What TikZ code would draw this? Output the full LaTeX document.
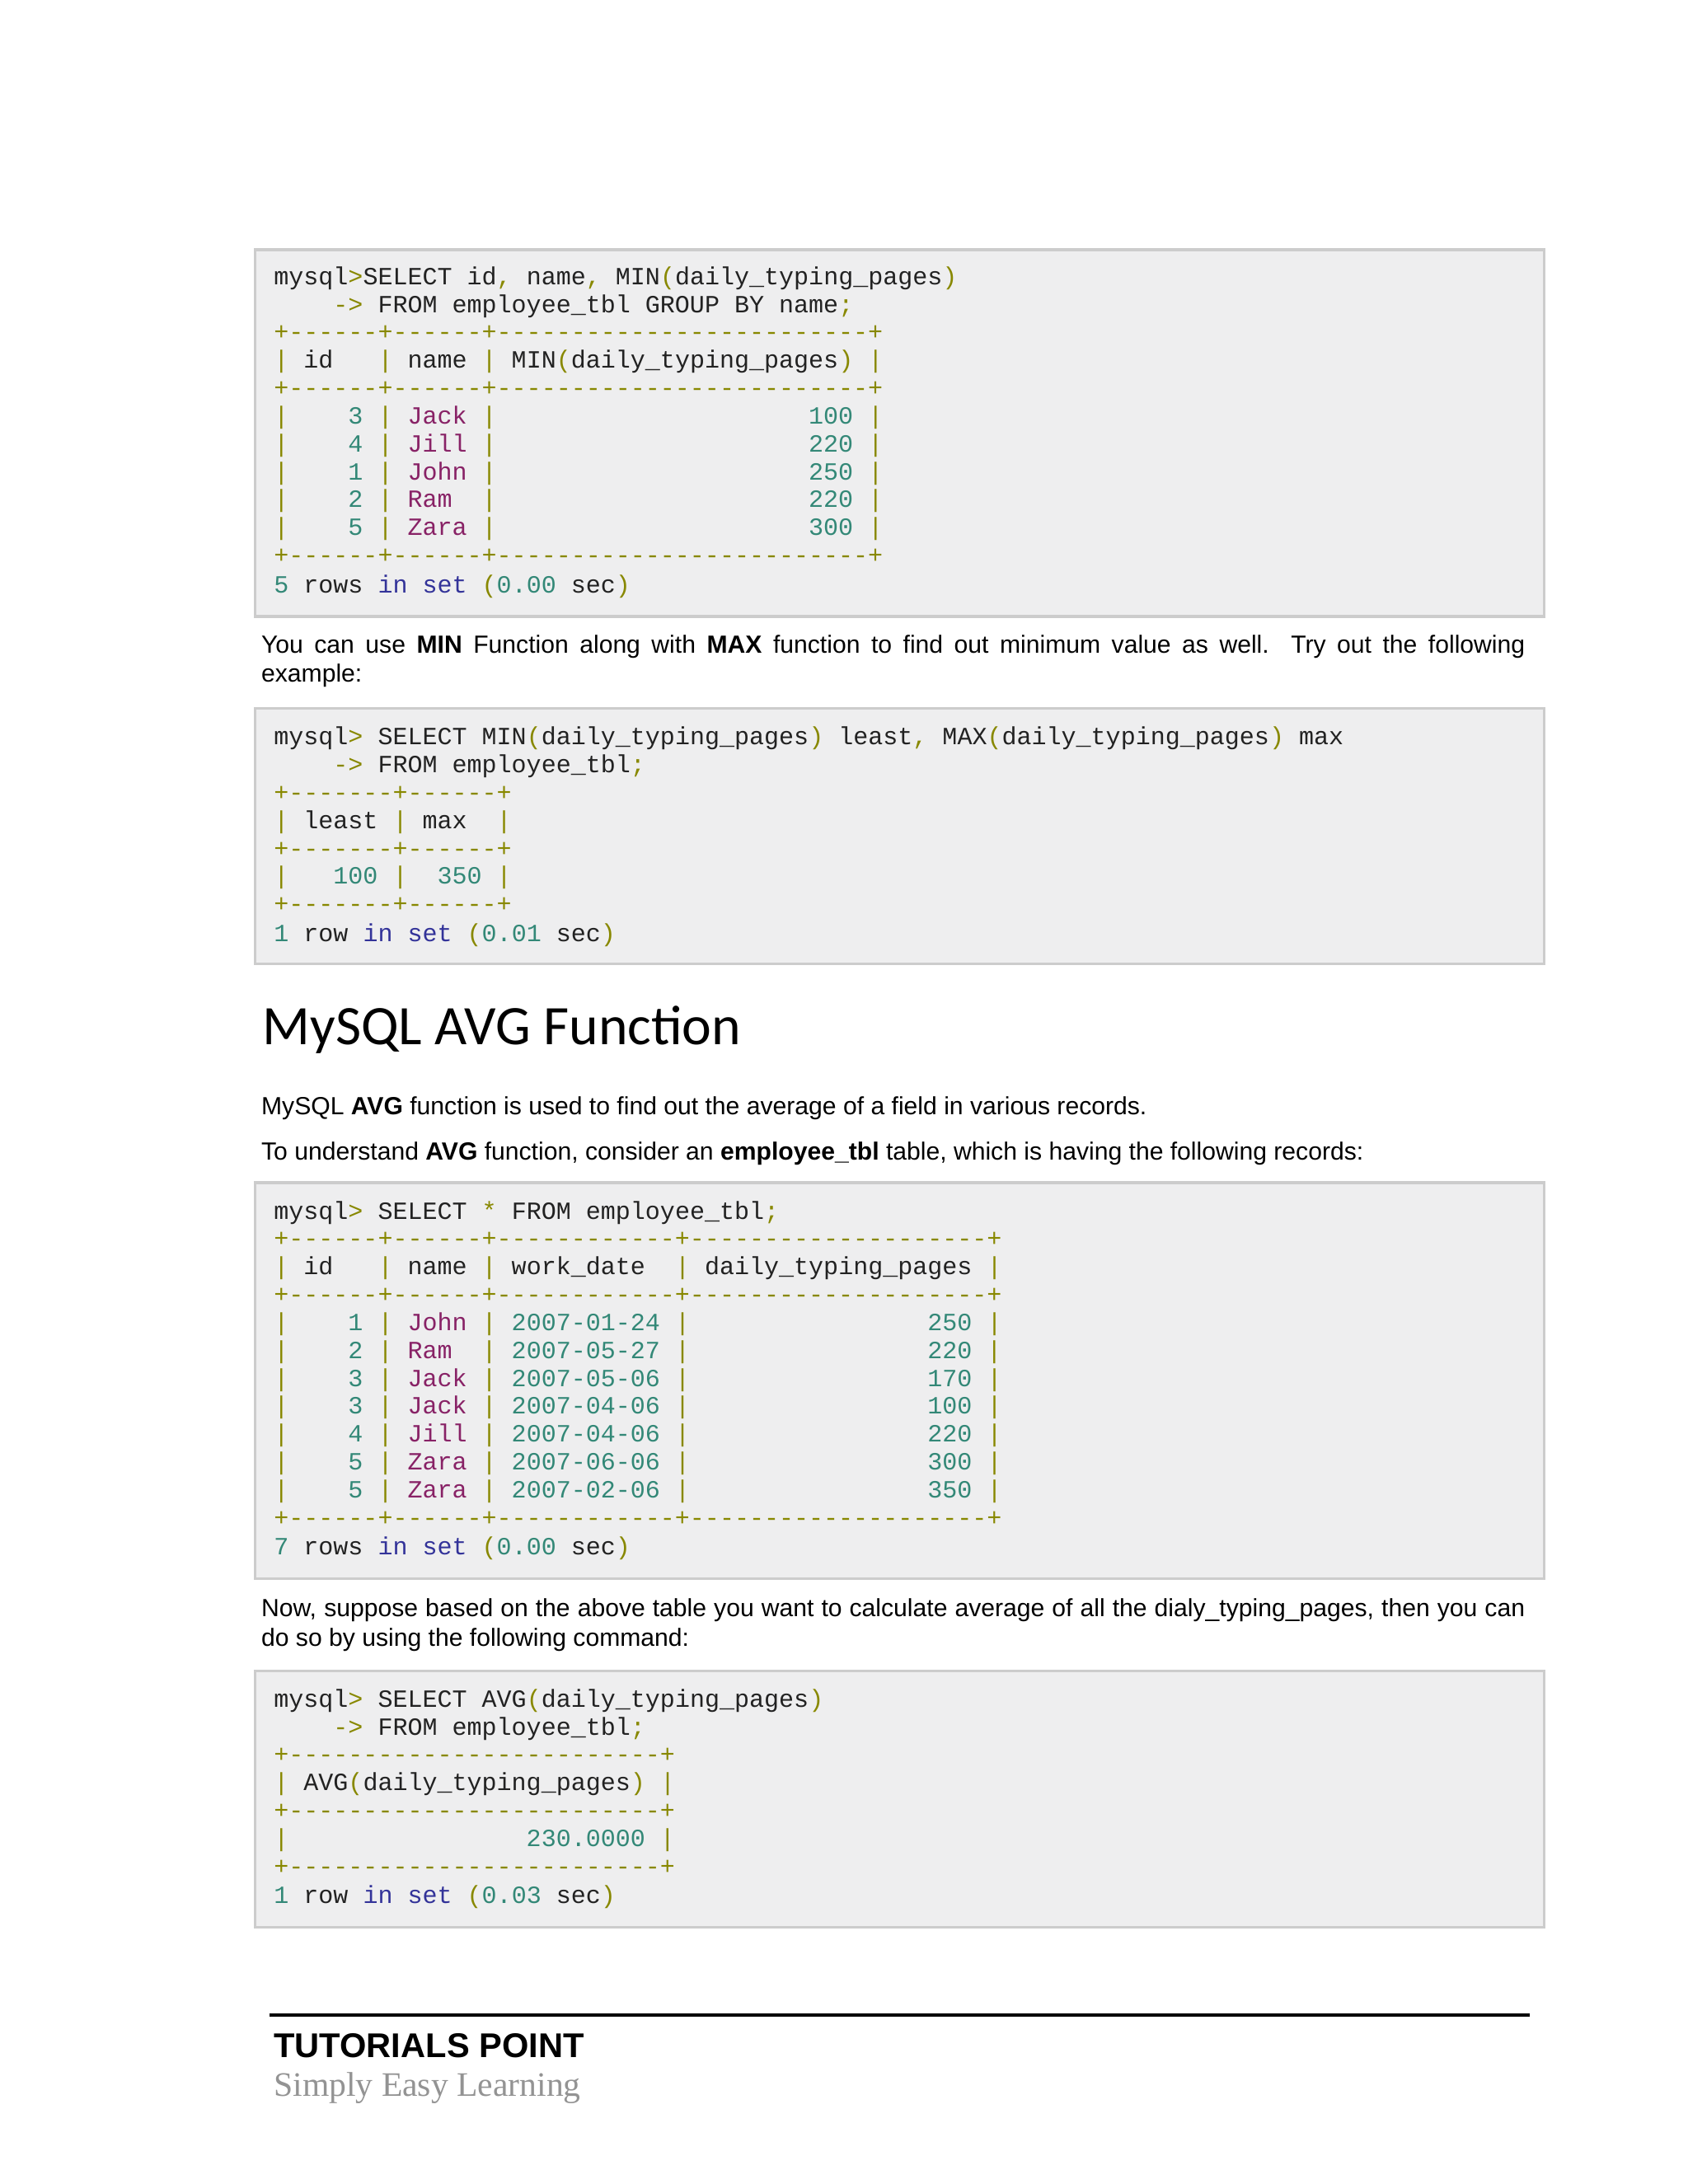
\documentclass[tikz,border=0pt]{standalone}
\usepackage{fontspec}
\setmainfont{Liberation Sans}
\setmonofont{Liberation Mono}
\newfontfamily\headfont{Carlito}
\newfontfamily\footserif{Liberation Serif}
\definecolor{olv}{HTML}{888800}
\definecolor{tea}{HTML}{338877}
\definecolor{pur}{HTML}{882266}
\definecolor{nav}{HTML}{333399}
\definecolor{boxbg}{HTML}{EEEEEF}
\definecolor{boxln}{HTML}{CCCCCC}
\definecolor{txt}{HTML}{222222}
\newcommand\co[1]{\textcolor{olv}{#1}}
\newcommand\cn[1]{\textcolor{tea}{#1}}
\newcommand\cq[1]{\textcolor{pur}{#1}}
\newcommand\ck[1]{\textcolor{nav}{#1}}
\newcommand\SP[1]{\hspace*{#1\dimexpr0.6em\relax}}
\tikzset{
  ml/.style={anchor=base west,inner sep=0pt,font=\ttfamily\fontsize{8.875}{10}\selectfont,text=txt},
  codebox/.style={fill=boxbg,draw=boxln,line width=1pt},
  para/.style={anchor=north west,inner sep=0pt,text width=453pt,align=justify,font=\fontsize{8.9}{10.5}\selectfont,text=black},
  line/.style={anchor=base west,inner sep=0pt,font=\fontsize{8.9}{10.5}\selectfont},
}
\begin{document}
\begin{tikzpicture}[x=0.5pt,y=-0.5pt]
\useasboundingbox (0,0) rectangle (1210,1566);
% box 1
\path[codebox] (183,179) rectangle (1107,442);
\node[ml] (a1) at (196,204) {mysql\co{>}SELECT~id\co{,}~name\co{,}~MIN\co{(}daily\_typing\_pages\co{)}};
\node[ml] (a2) at (196,224) {\SP4\co{->}~FROM~employee\_tbl~GROUP~BY~name\co{;}};
\node[ml] (a3) at (196,244) {\co{+------+------+-------------------------+}};
\node[ml] (a4) at (196,264) {\co{|}~id\SP3\co{|}~name~\co{|}~MIN\co{(}daily\_typing\_pages\co{)}~\co{|}};
\node[ml] (a5) at (196,284) {\co{+------+------+-------------------------+}};
\node[ml] (a6) at (196,304) {\co{|}\SP4\cn{3}~\co{|}~\cq{Jack}~\co{|}\SP{21}\cn{100}~\co{|}};
\node[ml] (a7) at (196,324) {\co{|}\SP4\cn{4}~\co{|}~\cq{Jill}~\co{|}\SP{21}\cn{220}~\co{|}};
\node[ml] (a8) at (196,344) {\co{|}\SP4\cn{1}~\co{|}~\cq{John}~\co{|}\SP{21}\cn{250}~\co{|}};
\node[ml] (a9) at (196,364) {\co{|}\SP4\cn{2}~\co{|}~\cq{Ram}\SP2\co{|}\SP{21}\cn{220}~\co{|}};
\node[ml] (a10) at (196,384) {\co{|}\SP4\cn{5}~\co{|}~\cq{Zara}~\co{|}\SP{21}\cn{300}~\co{|}};
\node[ml] (a11) at (196,404) {\co{+------+------+-------------------------+}};
\node[ml] (a12) at (196,425) {\cn{5}~rows~\ck{in}~\ck{set}~\co{(}\cn{0.00}~sec\co{)}};
% paragraph 1
\node[para] (p1) at (187,455) {You can use \textbf{MIN} Function along with \textbf{MAX} function to find out minimum value as well. Try out the following\linebreak example:};
% box 2
\path[codebox] (183,508) rectangle (1107,691);
\node[ml] (b1) at (196,534) {mysql\co{>}~SELECT~MIN\co{(}daily\_typing\_pages\co{)}~least\co{,}~MAX\co{(}daily\_typing\_pages\co{)}~max};
\node[ml] (b2) at (196,554) {\SP4\co{->}~FROM~employee\_tbl\co{;}};
\node[ml] (b3) at (196,574) {\co{+-------+------+}};
\node[ml] (b4) at (196,594) {\co{|}~least~\co{|}~max\SP2\co{|}};
\node[ml] (b5) at (196,614) {\co{+-------+------+}};
\node[ml] (b6) at (196,634) {\co{|}\SP3\cn{100}~\co{|}\SP2\cn{350}~\co{|}};
\node[ml] (b7) at (196,654) {\co{+-------+------+}};
\node[ml] (b8) at (196,675) {\cn{1}~row~\ck{in}~\ck{set}~\co{(}\cn{0.01}~sec\co{)}};
% heading
\node[anchor=base west,inner sep=0pt,font=\headfont\fontsize{20}{24}\selectfont] (h) at (188,749) {MySQL AVG Function};
\node[line] (p2) at (187,799) {MySQL \textbf{AVG} function is used to find out the average of a field in various records.};
\node[line] (p3) at (187,832) {To understand \textbf{AVG} function, consider an \textbf{employee\_tbl} table, which is having the following records:};
% box 3
\path[codebox] (183,848) rectangle (1107,1132);
\node[ml] (c1) at (196,874) {mysql\co{>}~SELECT~\co{*}~FROM~employee\_tbl\co{;}};
\node[ml] (c2) at (196,894) {\co{+------+------+------------+--------------------+}};
\node[ml] (c3) at (196,914) {\co{|}~id\SP3\co{|}~name~\co{|}~work\_date\SP2\co{|}~daily\_typing\_pages~\co{|}};
\node[ml] (c4) at (196,934) {\co{+------+------+------------+--------------------+}};
\node[ml] (c5) at (196,954) {\co{|}\SP4\cn{1}~\co{|}~\cq{John}~\co{|}~\cn{2007-01-24}~\co{|}\SP{16}\cn{250}~\co{|}};
\node[ml] (c6) at (196,974) {\co{|}\SP4\cn{2}~\co{|}~\cq{Ram}\SP2\co{|}~\cn{2007-05-27}~\co{|}\SP{16}\cn{220}~\co{|}};
\node[ml] (c7) at (196,994) {\co{|}\SP4\cn{3}~\co{|}~\cq{Jack}~\co{|}~\cn{2007-05-06}~\co{|}\SP{16}\cn{170}~\co{|}};
\node[ml] (c8) at (196,1014) {\co{|}\SP4\cn{3}~\co{|}~\cq{Jack}~\co{|}~\cn{2007-04-06}~\co{|}\SP{16}\cn{100}~\co{|}};
\node[ml] (c9) at (196,1034) {\co{|}\SP4\cn{4}~\co{|}~\cq{Jill}~\co{|}~\cn{2007-04-06}~\co{|}\SP{16}\cn{220}~\co{|}};
\node[ml] (c10) at (196,1054) {\co{|}\SP4\cn{5}~\co{|}~\cq{Zara}~\co{|}~\cn{2007-06-06}~\co{|}\SP{16}\cn{300}~\co{|}};
\node[ml] (c11) at (196,1074) {\co{|}\SP4\cn{5}~\co{|}~\cq{Zara}~\co{|}~\cn{2007-02-06}~\co{|}\SP{16}\cn{350}~\co{|}};
\node[ml] (c12) at (196,1094) {\co{+------+------+------------+--------------------+}};
\node[ml] (c13) at (196,1115) {\cn{7}~rows~\ck{in}~\ck{set}~\co{(}\cn{0.00}~sec\co{)}};
% paragraph 4
\node[para] (p4) at (187,1146) {Now, suppose based on the above table you want to calculate average of all the dialy\_typing\_pages, then you can do so by using the following command:};
% box 4
\path[codebox] (183,1198) rectangle (1107,1382);
\node[ml] (d1) at (196,1224) {mysql\co{>}~SELECT~AVG\co{(}daily\_typing\_pages\co{)}};
\node[ml] (d2) at (196,1244) {\SP4\co{->}~FROM~employee\_tbl\co{;}};
\node[ml] (d3) at (196,1264) {\co{+-------------------------+}};
\node[ml] (d4) at (196,1284) {\co{|}~AVG\co{(}daily\_typing\_pages\co{)}~\co{|}};
\node[ml] (d5) at (196,1304) {\co{+-------------------------+}};
\node[ml] (d6) at (196,1324) {\co{|}\SP{16}\cn{230.0000}~\co{|}};
\node[ml] (d7) at (196,1344) {\co{+-------------------------+}};
\node[ml] (d8) at (196,1365) {\cn{1}~row~\ck{in}~\ck{set}~\co{(}\cn{0.03}~sec\co{)}};
% footer
\coordinate (fl) at (193,1445);
\coordinate (fr) at (1097,1445);
\draw[line width=1.2pt] (fl) -- (fr);
\node[anchor=base west,inner sep=0pt,font=\bfseries\fontsize{12.3}{14}\selectfont] (t1) at (196,1475) {TUTORIALS POINT};
\node[anchor=base west,inner sep=0pt,text=gray!85,font=\footserif\fontsize{12.3}{14}\selectfont] (t2) at (196,1503) {Simply Easy Learning};
\end{tikzpicture}
\end{document}
